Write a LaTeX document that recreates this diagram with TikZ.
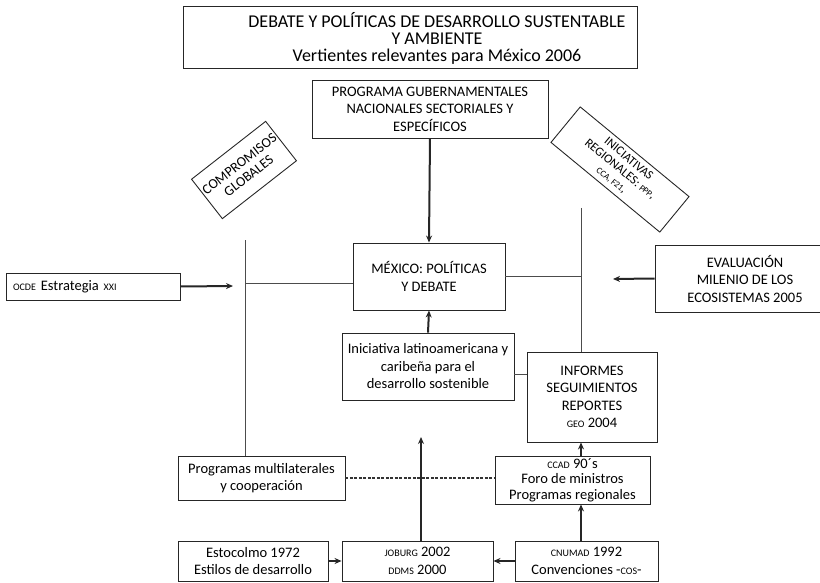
\documentclass[tikz,border=0pt]{standalone}
\usepackage{fontspec}
\setmainfont{Carlito}
\usepackage{tikz}
\usetikzlibrary{arrows.meta}
\newcommand{\pcaps}[1]{{\fontsize{10}{10}\selectfont #1}}

\begin{document}
\begin{tikzpicture}[x=1pt,y=-1pt,
  caja/.style={draw=black!85,line width=0.9pt,align=center,inner sep=0pt,font=\fontsize{14.5}{17.5}\selectfont},
  flecha/.style={line width=2pt,black!85,-{Stealth[length=7pt,width=6pt]}},
  linea/.style={line width=0.6pt,black!70}]
\useasboundingbox (0,0) rectangle (820,583);
\draw[line width=0.9pt,black!85] (183,6) rectangle (637,68);
\node[align=center,font=\fontsize{18}{17}\selectfont] (titulo) at (437,38) {DEBATE Y POLÍTICAS DE DESARROLLO SUSTENTABLE\\Y AMBIENTE\\Vertientes relevantes para México 2006};
\node[caja,minimum width=236,minimum height=58] (programa) at (430,109) {PROGRAMA GUBERNAMENTALES\\NACIONALES SECTORIALES Y\\ESPECÍFICOS};
\node[caja,minimum width=94,minimum height=50,rotate=38,font=\fontsize{14}{15}\selectfont] (compromisos) at (244,170) {COMPROMISOS\\GLOBALES};
\node[caja,minimum width=141,minimum height=46,rotate=-39.5,font=\fontsize{12.5}{13.5}\selectfont] (iniciativas) at (620,169.5) {INICIATIVAS\\REGIONALES: {\fontsize{9}{9}\selectfont PPP},\\{\fontsize{9}{9}\selectfont CCA, F21},};
\node[caja,minimum width=152,minimum height=67] (mexico) at (429,276.5) {MÉXICO: POLÍTICAS\\Y DEBATE};
\node[caja,minimum width=174,minimum height=27,align=left,text width=160] (ocde) at (93,286.5) {\pcaps{OCDE} Estrategia \pcaps{XXI}};
\node[caja,minimum width=180,minimum height=67] (evaluacion) at (745,278.5) {EVALUACIÓN\\MILENIO DE LOS\\ECOSISTEMAS 2005};
\node[caja,minimum width=172,minimum height=67] (iniciativa) at (428,366.5) {Iniciativa latinoamericana y\\caribeña para el\\desarrollo sostenible};
\node[caja,minimum width=130,minimum height=90] (informes) at (592,397) {INFORMES\\SEGUIMIENTOS\\REPORTES\\\pcaps{GEO} 2004};
\node[caja,minimum width=167,minimum height=44] (multi) at (261.5,478) {Programas multilaterales\\y cooperación};
\node[caja,minimum width=155,minimum height=48,font=\fontsize{14.5}{15.5}\selectfont] (ccad) at (572.5,480) {\pcaps{CCAD} 90´s\\Foro de ministros\\Programas regionales};
\node[caja,minimum width=150,minimum height=40] (estocolmo) at (253,561) {Estocolmo 1972\\Estilos de desarrollo};
\node[caja,minimum width=151,minimum height=40] (joburg) at (417.5,561) {\pcaps{JOBURG} 2002\\\pcaps{DDMS} 2000};
\node[caja,minimum width=143,minimum height=40] (cnumad) at (586.5,561) {\pcaps{CNUMAD} 1992\\Convenciones -\pcaps{COS}-};
\coordinate (izqarriba) at (245,240);
\coordinate (derarriba) at (581,208);
\coordinate (ocdefin) at (233,286);
\coordinate (evalfin) at (613,279);
\coordinate (joburgfin) at (421,437);
\draw[linea] (izqarriba) -- (izqarriba |- multi.north);
\draw[linea] ([yshift=-7pt]mexico.west) -- ([yshift=-7pt]mexico.west -| izqarriba);
\draw[linea] (derarriba) -- (derarriba |- informes.north);
\draw[linea] (mexico.east) -- (mexico.east -| derarriba);
\draw[linea] ([yshift=-8pt]iniciativa.east) -- ([yshift=-8pt]iniciativa.east -| informes.west);
\draw[line width=1.2pt,black!80,dash pattern=on 3pt off 1.5pt] (multi.east) -- (multi.east -| ccad.west);
\draw[flecha] (programa.south) -- (mexico.north);
\draw[flecha] (ocde.east) -- (ocdefin);
\draw[flecha] (evaluacion.west) -- (evalfin);
\draw[flecha] (iniciativa.north) -- (mexico.south);
\draw[flecha] (joburg.north -| joburgfin) -- (joburgfin);
\draw[flecha] (estocolmo.east) -- (joburg.west);
\draw[flecha] (cnumad.west) -- (joburg.east);
\draw[flecha] (cnumad.north -| derarriba) -- (ccad.south -| derarriba);
\draw[flecha] (ccad.north -| derarriba) -- (informes.south -| derarriba);
\end{tikzpicture}
\end{document}
